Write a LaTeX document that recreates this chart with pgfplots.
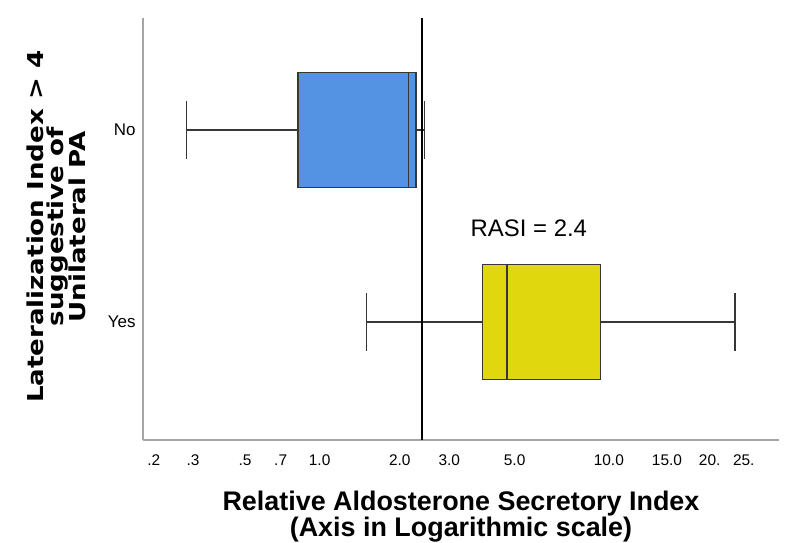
\documentclass[border=0pt]{standalone}
\usepackage{pgfplots}
\pgfplotsset{compat=1.18}
\usepgfplotslibrary{statistics}
\usepackage{fontspec}
\setmainfont{Liberation Sans}
\newfontfamily\widebold[FakeStretch=1.19]{DejaVu Sans}
\definecolor{boxblue}{RGB}{84,147,228}
\definecolor{boxyellow}{RGB}{225,215,14}
\definecolor{axgray}{RGB}{165,165,165}
\definecolor{edge}{RGB}{55,55,55}
\begin{document}
\begin{tikzpicture}
\useasboundingbox (0,0) rectangle (786bp,543bp);
\begin{axis}[
  at={(143bp,103bp)}, anchor=south west,
  scale only axis, width=636bp, height=422bp,
  x coord trafo/.code={\def\pwtmp{#1}\ifx\pwtmp\empty\let\pgfmathresult\empty\else\pgfmathparse{(#1)^0.1}\fi},
  x coord inv trafo/.code={\pgfmathparse{(#1)^10}},
  xmin=0.178, xmax=31.35, ymin=-0.615, ymax=1.583,
  axis x line*=bottom, axis y line*=left,
  axis line style={axgray, line width=1.6bp},
  xtick={0.2,0.3,0.5,0.7,1,2,3,5,10,15,20,25},
  xticklabels={.2,.3,.5,.7,1.0,2.0,3.0,5.0,10.0,15.0,20.,25.},
  ytick={0,1}, yticklabels={Yes,No},
  major tick length=0pt,
  xticklabel style={font=\fontsize{15.5}{15.5}\selectfont, anchor=north, yshift=-11bp},
  yticklabel style={font=\fontsize{17}{17}\selectfont, anchor=east, xshift=-4bp},
  xlabel={Relative Aldosterone Secretory Index\\(Axis in Logarithmic scale)},
  xlabel style={at={(axis description cs:0.5,-0.182)}, anchor=center, align=center, inner sep=0pt,
    font=\fontsize{27}{26}\selectfont\bfseries},
  ylabel={Lateralization Index > 4\\suggestive of\\Unilateral PA},
  ylabel style={at={(axis description cs:-0.136,0.505)}, anchor=center, align=center, inner sep=0pt,
    font=\fontsize{22}{19.5}\selectfont\widebold\bfseries},
  clip=false,
]
\addplot[draw=edge, fill=boxyellow, line width=1.3bp,
  boxplot prepared={lower whisker=1.51, lower quartile=3.91, median=4.72,
    upper quartile=9.45, upper whisker=23.6, draw position=0,
    box extend=0.6, whisker extend=0.3, draw direction=x}]
  coordinates {};
\addplot[draw=edge, fill=boxblue, line width=1.3bp,
  boxplot prepared={lower whisker=0.281, lower quartile=0.82, median=2.15,
    upper quartile=2.29, upper whisker=2.45, draw position=1,
    box extend=0.6, whisker extend=0.3, draw direction=x}]
  coordinates {};
\addplot[black, line width=1.6bp] coordinates {(2.4,-0.615) (2.4,1.583)};
\node[anchor=base, font=\fontsize{24}{24}\selectfont] at (axis cs:5.57,0.443) {RASI = 2.4};
\end{axis}
\end{tikzpicture}
\end{document}
